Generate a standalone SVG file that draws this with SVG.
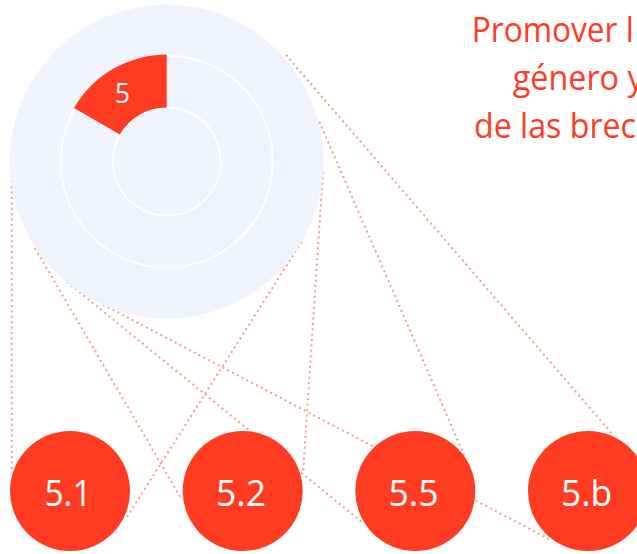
<svg xmlns="http://www.w3.org/2000/svg" width="637" height="554" viewBox="0 0 637 554">
<style>
.link{fill:none;stroke:#f69c8c;stroke-width:2;stroke-dasharray:2 3.4}
.node{fill:#ff3b21}
.lbl{fill:#ffffff;font-family:"Open Sans","Noto Sans",sans-serif;font-weight:400;text-anchor:middle}
.title{fill:#ff3b21;font-family:"Open Sans","Noto Sans",sans-serif;font-weight:400;font-size:34px}
.ring{fill:none;stroke:#ffffff;stroke-width:2}
</style>
<rect width="637" height="554" fill="#ffffff"/>
<g id="connectors">
<line class="link" x1="11.7" y1="170" x2="11.7" y2="470"/>
<line class="link" x1="35" y1="248" x2="182" y2="500"/>
<line class="link" x1="103" y1="304.5" x2="549" y2="539"/>
<line class="link" x1="66.7" y1="281.7" x2="363" y2="523"/>
<line class="link" x1="301.7" y1="241.7" x2="125" y2="520"/>
<line class="link" x1="323" y1="172" x2="303" y2="474"/>
<line class="link" x1="286" y1="55" x2="613" y2="435"/>
<line class="link" x1="319.3" y1="121.7" x2="465" y2="457"/>
</g>
<g id="goal-5">
<circle cx="166.7" cy="161.5" r="157" fill="#f0f3fe"/>
<circle class="ring" cx="166.7" cy="161.5" r="106"/>
<circle class="ring" cx="166.7" cy="161.5" r="54"/>
<path class="node" d="M166.7,54.5 A107,107 0 0 0 74,108 L119.9,134.5 A54,54 0 0 1 166.7,107.5 Z"/>
<text class="lbl" x="122.5" y="102.7" font-size="27">5</text>
</g>
<g id="title">
<text class="title" x="471.7" y="42" textLength="162" lengthAdjust="spacingAndGlyphs">Promover l</text>
<text class="title" x="512.7" y="90" textLength="131" lengthAdjust="spacingAndGlyphs">género y</text>
<text class="title" x="474" y="138" textLength="162" lengthAdjust="spacingAndGlyphs">de las brec</text>
</g>
<g id="target-5-1">
<circle class="node" cx="70" cy="491" r="60"/>
<text class="lbl" x="68" y="506" font-size="36" textLength="47" lengthAdjust="spacingAndGlyphs">5.1</text>
</g>
<g id="target-5-2">
<circle class="node" cx="242.7" cy="491" r="60"/>
<text class="lbl" x="241" y="506" font-size="36" textLength="50" lengthAdjust="spacingAndGlyphs">5.2</text>
</g>
<g id="target-5-5">
<circle class="node" cx="415.3" cy="491" r="60"/>
<text class="lbl" x="413.5" y="506" font-size="36" textLength="50" lengthAdjust="spacingAndGlyphs">5.5</text>
</g>
<g id="target-5-b">
<circle class="node" cx="588" cy="491" r="60"/>
<text class="lbl" x="586.5" y="506" font-size="36" textLength="51" lengthAdjust="spacingAndGlyphs">5.b</text>
</g>
</svg>
